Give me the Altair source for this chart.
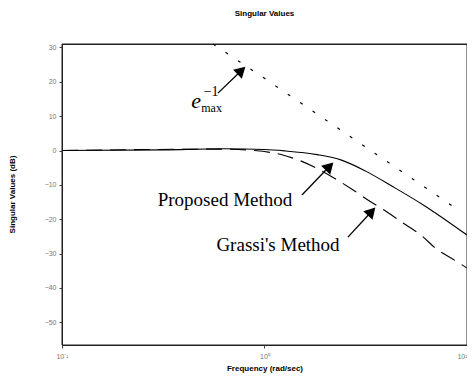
import altair as alt
import pandas as pd

# Proposed method (solid)
prop_f = [0.1, 0.316, 0.631, 1.0, 1.259, 1.82, 2.40, 3.16, 4.27, 6.03, 10.0]
prop_db = [0.0, 0.2, 0.5, 0.3, -0.1, -1.2, -2.8, -6.0, -10.4, -15.7, -24.6]
# Grassi's method (dashed)
gras_f = [0.1, 0.631, 0.891, 1.23, 1.46, 2.74, 3.24, 4.03, 4.83, 6.0, 6.95, 8.73, 10.0]
gras_db = [0.0, 0.4, 0.0, -1.3, -2.7, -11.5, -14.4, -17.9, -21.1, -24.9, -28.3, -32.0, -34.2]
# e_max^-1 (dotted)
emax_f = [0.557, 1.0, 3.16, 8.9]
emax_db = [31.0, 21.0, 1.0, -17.0]

y_ticks = [-50, -40, -30, -20, -10, 0, 10, 20, 30]
x_ticks = [0.1, 1, 10]

rows = []
for f, v in zip(prop_f, prop_db):
    rows.append({"f": f, "db": v, "s": "Proposed"})
for f, v in zip(gras_f, gras_db):
    rows.append({"f": f, "db": v, "s": "Grassi"})
for f, v in zip(emax_f, emax_db):
    rows.append({"f": f, "db": v, "s": "emax"})
df = pd.DataFrame(rows)

xs = alt.Scale(type="log", domain=[0.1, 10])
ys = alt.Scale(domain=[-56.6, 31], nice=False, zero=False)

xax = alt.Axis(values=x_ticks, title="Frequency (rad/sec)", grid=False,
               labelExpr="datum.value < 0.5 ? '10\u207b\u00b9' : (datum.value < 5 ? '10\u2070' : '10\u00b9')",
               labelAlign={"condition": {"test": "datum.value > 5", "value": "right"}, "value": "center"},
               labelFontSize=7, labelColor="#777", tickSize=3, labelPadding=4,
               labelOverlap=False, labelFlush=False,
               titleFontSize=8, titleFontWeight="bold", titleFont="Liberation Sans",
               titleY=23, titleBaseline="middle", domain=False, ticks=True, tickColor="#444")
yax = alt.Axis(values=y_ticks, title="Singular Values (dB)", grid=False,
               labelFontSize=7, labelColor="#777", tickSize=3, labelPadding=3,
               labelOverlap=False, labelFlush=False,
               titleFontSize=8, titleFontWeight="bold", titleFont="Liberation Sans",
               titleX=-50, titleY=150, titleBaseline="middle", domain=False, tickColor="#444")

X = lambda f: alt.X(f, scale=xs, axis=xax)
Y = lambda f: alt.Y(f, scale=ys, axis=yax)

base = alt.Chart(df)

solid = base.transform_filter(alt.datum.s == "Proposed").mark_line(
    color="black", strokeWidth=1.1, interpolate="monotone").encode(x=X("f:Q"), y=Y("db:Q"))
dashed = base.transform_filter(alt.datum.s == "Grassi").mark_line(
    color="black", strokeWidth=1.1, strokeDash=[16, 8], interpolate="monotone").encode(
    x=X("f:Q"), y=Y("db:Q"))
dotted = base.transform_filter(alt.datum.s == "emax").mark_line(
    color="black", strokeWidth=1.2, strokeDash=[3, 12]).encode(x=X("f:Q"), y=Y("db:Q"))

# arrows: tail -> head base
arrow_df = pd.DataFrame({
    "f": [0.589, 1.531, 2.582],
    "db": [16.7, -12.95, -25.2],
    "f2": [0.769, 2.094, 3.38],
    "db2": [23.3, -4.6, -17.75],
    "ang": [46, 44, 43],
})
shafts = alt.Chart(arrow_df).mark_rule(color="black", strokeWidth=1.3).encode(
    x=X("f:Q"), y=Y("db:Q"), x2="f2:Q", y2="db2:Q")
heads = alt.Chart(arrow_df).mark_point(shape="triangle-up", filled=True, color="black",
                                       size=160, opacity=1).encode(
    x=X("f2:Q"), y=Y("db2:Q"), angle=alt.Angle("ang:Q", scale=None))

labels_df = pd.DataFrame({
    "f": [0.638, 1.166],
    "db": [-14.4, -27.5],
    "t": ["Proposed  Method", "Grassi's  Method"],
})
labels = alt.Chart(labels_df).mark_text(font="Liberation Serif", fontSize=19, color="black",
                                        align="center", baseline="middle").encode(
    x=X("f:Q"), y=Y("db:Q"), text="t:N")

e_df = pd.DataFrame({"f": [0.459], "db": [14.3], "t": ["e"]})
sup_df = pd.DataFrame({"f": [0.545], "db": [17.0], "t": ["\u22121"]})
sub_df = pd.DataFrame({"f": [0.548], "db": [12.3], "t": ["max"]})
e_t = alt.Chart(e_df).mark_text(font="Liberation Serif", fontSize=22, fontStyle="italic",
                                color="black", baseline="middle").encode(
    x=X("f:Q"), y=Y("db:Q"), text="t:N")
sup_t = alt.Chart(sup_df).mark_text(font="Liberation Serif", fontSize=14, color="black",
                                    baseline="middle").encode(
    x=X("f:Q"), y=Y("db:Q"), text="t:N")
sub_t = alt.Chart(sub_df).mark_text(font="Liberation Serif", fontSize=12, color="black",
                                    baseline="middle").encode(
    x=X("f:Q"), y=Y("db:Q"), text="t:N")

frame = alt.Chart(pd.DataFrame({"k": [0]})).mark_rect(
    filled=False, stroke="#222", strokeWidth=1).encode(
    x=alt.value(0), x2=alt.value(405), y=alt.value(0), y2=alt.value(301))

chart = alt.layer(solid, dashed, dotted, shafts, heads, labels, e_t, sup_t, sub_t, frame).properties(
    width=405, height=301,
    background="white",
    title=alt.TitleParams("Singular Values", fontSize=8, fontWeight="bold",
                          font="Liberation Sans", offset=24, anchor="middle"),
    autosize=alt.AutoSizeParams(type="none"),
    padding={"left": 54, "top": 36, "right": 0, "bottom": 28},
).configure_view(stroke="#222", strokeWidth=1)

chart.save("out.html", embed_options={"renderer": "svg", "actions": False})
